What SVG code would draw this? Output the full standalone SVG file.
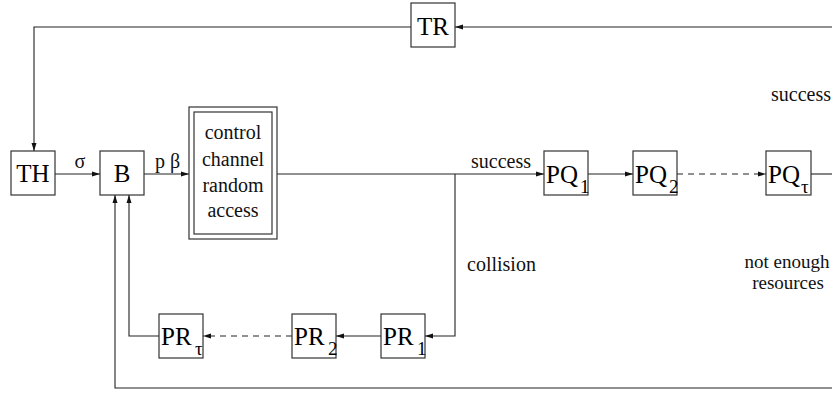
<svg xmlns="http://www.w3.org/2000/svg" width="832" height="394" viewBox="0 0 832 394">
  <style>
    .box { fill: #ffffff; stroke: #333333; stroke-width: 1.2; }
    .ln { fill: none; stroke: #222222; stroke-width: 1.1; }
    .dash { stroke-dasharray: 6 5; }
    .arr { marker-end: url(#ah); }
    .big { font-family: "Liberation Serif", "Times New Roman", serif; font-size: 25px; fill: #000; }
    .q { font-family: "Liberation Serif", "Times New Roman", serif; font-size: 25px; fill: #000; }
    .sub { font-family: "Liberation Serif", "Times New Roman", serif; font-size: 19px; fill: #000; }
    .lbl { font-family: "Liberation Serif", "Times New Roman", serif; font-size: 20px; fill: #111; }
    .sm { font-size: 19px; }
  </style>
  <defs>
    <marker id="ah" markerUnits="userSpaceOnUse" markerWidth="9" markerHeight="7" refX="8" refY="3" orient="auto">
      <path d="M0,0.5 L8,3 L0,5.5 z" fill="#111111"/>
    </marker>
  </defs>

  <rect width="832" height="394" fill="#ffffff"/>

  <g id="connectors">
    <!-- feedback from the right into TR -->
    <line class="ln arr" x1="832" y1="27" x2="455" y2="27"/>
    <!-- TR back down to TH -->
    <polyline class="ln arr" points="411,27 34,27 34,151"/>
    <!-- TH -> B -> control channel -->
    <line class="ln arr" x1="55" y1="174" x2="100" y2="174"/>
    <line class="ln arr" x1="144" y1="174" x2="189" y2="174"/>
    <!-- control channel -> PQ1 (success) -->
    <line class="ln arr" x1="277" y1="174" x2="544" y2="174"/>
    <line class="ln arr" x1="588" y1="174" x2="633" y2="174"/>
    <line class="ln dash arr" x1="677" y1="174" x2="766" y2="174"/>
    <line class="ln" x1="811" y1="174" x2="832" y2="174"/>
    <!-- collision branch down to PR1 -->
    <polyline class="ln arr" points="455,174 455,336 425,336"/>
    <line class="ln arr" x1="381" y1="336" x2="336" y2="336"/>
    <line class="ln dash arr" x1="292" y1="336" x2="203" y2="336"/>
    <!-- PR_tau back up to B -->
    <polyline class="ln arr" points="159,336 129,336 129,195"/>
    <!-- bottom return (not enough resources) to B -->
    <polyline class="ln arr" points="832,388 115,388 115,195"/>
  </g>

  <g id="node-TR">
    <rect class="box" x="411" y="3" width="44" height="44"/>
    <text class="big" x="433" y="35" text-anchor="middle">TR</text>
  </g>

  <g id="node-TH">
    <rect class="box" x="11" y="151" width="44" height="44"/>
    <text class="big" x="33" y="182" text-anchor="middle">TH</text>
  </g>

  <g id="node-B">
    <rect class="box" x="100" y="151" width="44" height="44"/>
    <text class="big" x="122" y="182" text-anchor="middle">B</text>
  </g>

  <g id="node-control">
    <rect class="box" x="189" y="107" width="88" height="132"/>
    <rect class="box" x="194" y="112" width="78" height="122"/>
    <text class="lbl" x="233" y="139" text-anchor="middle">control</text>
    <text class="lbl" x="233" y="166" text-anchor="middle">channel</text>
    <text class="lbl" x="233" y="192" text-anchor="middle">random</text>
    <text class="lbl" x="233" y="217" text-anchor="middle">access</text>
  </g>

  <g id="node-PQ1">
    <rect class="box" x="544" y="151" width="44" height="44"/>
    <text class="q" x="546" y="183">PQ</text>
    <text class="sub" x="580" y="193">1</text>
  </g>

  <g id="node-PQ2">
    <rect class="box" x="633" y="151" width="44" height="44"/>
    <text class="q" x="635" y="183">PQ</text>
    <text class="sub" x="669" y="193">2</text>
  </g>

  <g id="node-PQtau">
    <rect class="box" x="766" y="151" width="45" height="44"/>
    <text class="q" x="768" y="183">PQ</text>
    <text class="sub" x="801" y="193">τ</text>
  </g>

  <g id="node-PR1">
    <rect class="box" x="381" y="314" width="44" height="44"/>
    <text class="q" x="383" y="345">PR</text>
    <text class="sub" x="417" y="355">1</text>
  </g>

  <g id="node-PR2">
    <rect class="box" x="292" y="314" width="44" height="44"/>
    <text class="q" x="294" y="345">PR</text>
    <text class="sub" x="328" y="355">2</text>
  </g>

  <g id="node-PRtau">
    <rect class="box" x="159" y="314" width="44" height="44"/>
    <text class="q" x="161" y="345">PR</text>
    <text class="sub" x="195" y="355">τ</text>
  </g>

  <g id="labels">
    <text class="lbl" x="80" y="168" text-anchor="middle">σ</text>
    <text class="lbl" x="155" y="168">p β</text>
    <text class="lbl" x="471" y="168">success</text>
    <text class="lbl" x="467" y="271">collision</text>
    <text class="lbl" x="771" y="101">success</text>
    <text class="lbl sm" x="787" y="268" text-anchor="middle">not enough</text>
    <text class="lbl sm" x="788" y="289" text-anchor="middle">resources</text>
  </g>
</svg>
